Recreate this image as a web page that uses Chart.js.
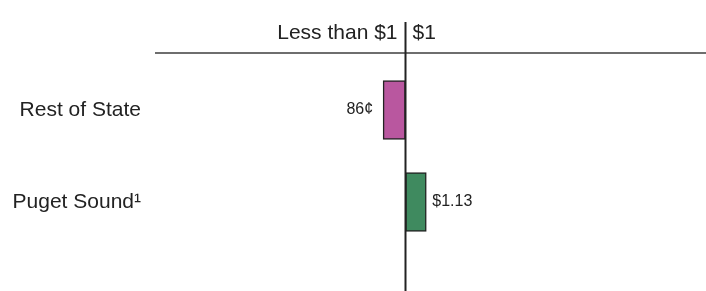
<!DOCTYPE html>
<html lang="en">
<head>
    <meta charset="UTF-8">
    <title>Rest of State vs Puget Sound</title>
    <script src="https://cdn.jsdelivr.net/npm/chart.js"></script>
    <style>
        body {
            margin: 0;
            background: #ffffff;
        }
        .chart-box {
            position: relative;
            width: 706px;
            height: 291px;
        }
    </style>
</head>
<body>
    <div class="chart-box">
        <canvas id="myChart"></canvas>
    </div>

    <script>
        // data
        const categories = ['Rest of State', 'Puget Sound\u00B9'];
        const values = [0.86, 1.13];
        const valueLabels = ['86\u00A2', '$1.13'];
        const baseline = 1;
        const headerLabels = ['Less than $1', '$1'];
        const barColors = ['#b9579f', '#3f8a5f'];

        const fontFamily = '"Liberation Sans", Arial, sans-serif';
        const textColor = '#222222';

        // bars float from the $1 line to the value
        const barData = values.map(v => [Math.min(v, baseline), Math.max(v, baseline)]);

        // baseline line, header line, header texts and value labels
        const overlay = {
            id: 'overlay',
            afterDatasetsDraw(chart) {
                const c = chart.ctx;
                const area = chart.chartArea;
                const xs = chart.scales.x;
                const bx = xs.getPixelForValue(baseline);

                c.save();
                // header rule
                c.strokeStyle = '#6e6e6e';
                c.lineWidth = 2;
                c.beginPath();
                c.moveTo(area.left, 53);
                c.lineTo(chart.width, 53);
                c.stroke();

                // $1 line
                c.strokeStyle = '#222222';
                c.lineWidth = 2;
                c.beginPath();
                c.moveTo(bx, 22);
                c.lineTo(bx, chart.height);
                c.stroke();

                // header texts
                c.fillStyle = textColor;
                c.font = '21px ' + fontFamily;
                c.textBaseline = 'middle';
                c.textAlign = 'right';
                c.fillText(headerLabels[0], bx - 8, 33);
                c.textAlign = 'left';
                c.fillText(headerLabels[1], bx + 7, 33);

                // value labels next to bars
                c.font = '16px ' + fontFamily;
                const meta = chart.getDatasetMeta(0);
                meta.data.forEach((bar, i) => {
                    if (values[i] < baseline) {
                        c.textAlign = 'right';
                        c.fillText(valueLabels[i], xs.getPixelForValue(values[i]) - 10, bar.y);
                    } else {
                        c.textAlign = 'left';
                        c.fillText(valueLabels[i], xs.getPixelForValue(values[i]) + 6, bar.y);
                    }
                });
                c.restore();
            }
        };

        const pxPerUnit = 160;
        const xMin = baseline - 250.5 / pxPerUnit;
        const xMax = xMin + 551 / pxPerUnit;

        const ctx = document.getElementById('myChart').getContext('2d');
        const myChart = new Chart(ctx, {
            type: 'bar',
            data: {
                labels: categories,
                datasets: [{
                    data: barData,
                    backgroundColor: barColors,
                    borderColor: '#222222',
                    borderWidth: 1.5,
                    borderSkipped: false,
                    barThickness: 59
                }]
            },
            options: {
                indexAxis: 'y',
                responsive: true,
                maintainAspectRatio: false,
                animation: false,
                layout: {
                    padding: { top: 64, bottom: 43, left: 0, right: 0 }
                },
                plugins: {
                    legend: { display: false },
                    tooltip: { enabled: false }
                },
                scales: {
                    x: {
                        display: false,
                        min: xMin,
                        max: xMax
                    },
                    y: {
                        afterFit(scale) {
                            scale.width = 155;
                        },
                        grid: { display: false, drawTicks: false },
                        border: { display: false },
                        ticks: {
                            padding: 14,
                            color: textColor,
                            font: { family: fontFamily, size: 21 }
                        }
                    }
                }
            },
            plugins: [overlay]
        });
    </script>
</body>
</html>
